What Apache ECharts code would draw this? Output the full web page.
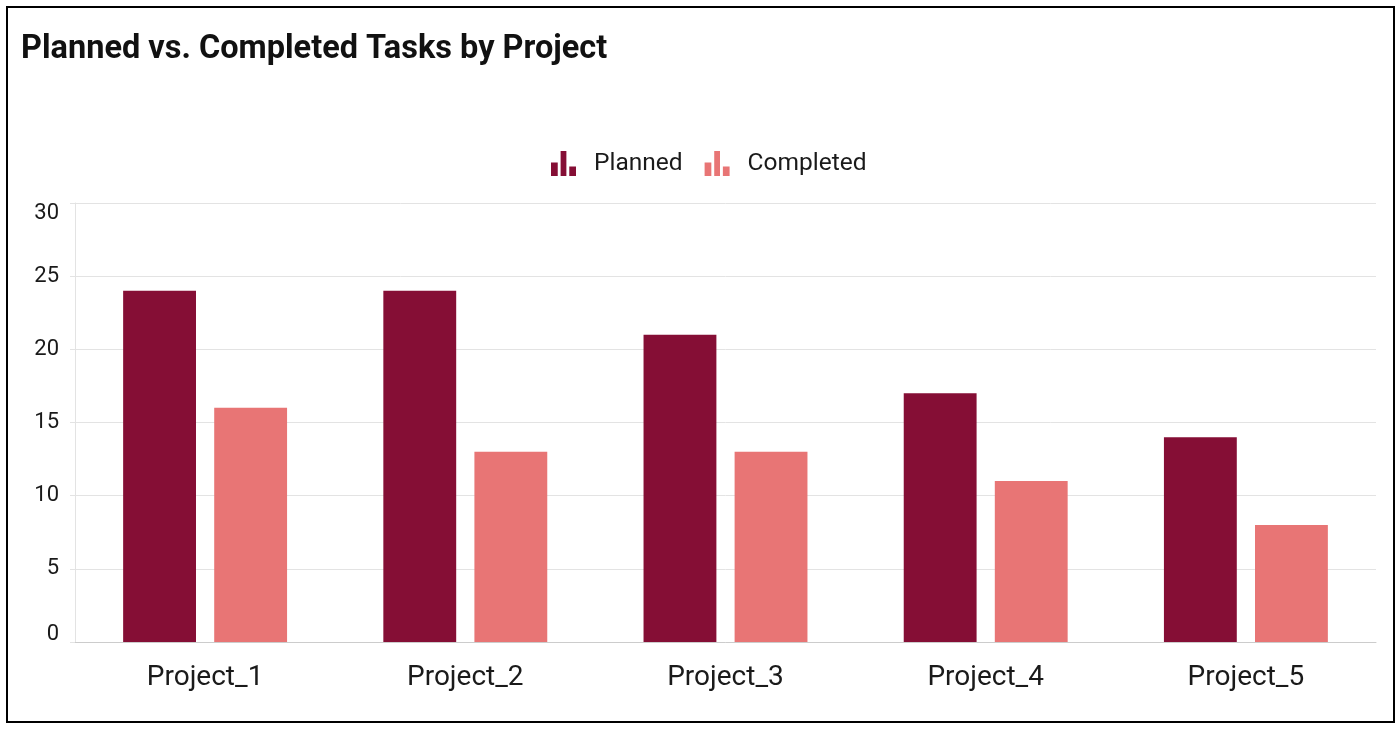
<!DOCTYPE html>
<html>
<head>
<meta charset="utf-8">
<script src="https://cdn.jsdelivr.net/npm/echarts@6/dist/echarts.min.js"></script>
<style>
html,body{margin:0;padding:0;background:#fff;}
#chart{position:absolute;left:0;top:0;width:1400px;height:729px;}
#frame{position:absolute;left:6px;top:6px;width:1385px;height:713px;border:2px solid #000;pointer-events:none;}
</style>
</head>
<body>
<div id="chart"></div>
<div id="frame"></div>
<script>
const categories = ['Project_1','Project_2','Project_3','Project_4','Project_5'];
const planned = [24, 24, 21, 17, 14];
const completed = [16, 13, 13, 11, 8];
const seriesNames = ['Planned','Completed'];
const yMin = 0, yMax = 30, yStep = 5;
const colors = ['#850E35','#E87575'];

const icon = 'path://M0,12 h7 v14 h-7z M10,0 h6 v26 h-6z M19,16 h7 v10 h-7z';

const chart = echarts.init(document.getElementById('chart'));
chart.setOption({
  animation:false,
  title:{
    text:'Planned vs. Completed Tasks by Project',
    left:21, top:33, padding:0,
    textStyle:{fontFamily:'Roboto', fontSize:32.5, fontWeight:'bold', color:'#111'}
  },
  legend:{
    top:151, left:551, padding:0,
    itemWidth:25, itemHeight:26, itemGap:22,
    icon: icon,
    textStyle:{fontFamily:'Roboto', fontSize:24.5, color:'#1a1a1a', padding:[0,0,0,13]},
    data: seriesNames
  },
  grid:{left:75, right:24, top:203, bottom:87},
  xAxis:{
    type:'category', data:categories,
    axisLine:{lineStyle:{color:'#ccc', width:1}},
    axisTick:{length:9, lineStyle:{color:'#ccc'}},
    axisLabel:{fontFamily:'Roboto', fontSize:28, color:'#1a1a1a', margin:22}
  },
  yAxis:{
    type:'value', min:yMin, max:yMax, interval:yStep,
    axisLine:{show:true, lineStyle:{color:'#e3e3e3'}},
    axisTick:{show:true, length:5, lineStyle:{color:'#e3e3e3'}},
    splitLine:{lineStyle:{color:'#e3e3e3'}},
    axisLabel:{
      fontFamily:'Roboto', fontSize:22, color:'#1a1a1a', margin:16,
      formatter:function(v){
        if(v===yMax) return '{top|'+v+'}';
        if(v===yMin) return '{bot|'+v+'}';
        return String(v);
      },
      rich:{
        top:{fontFamily:'Roboto', fontSize:22, color:'#1a1a1a', padding:[21,0,0,0]},
        bot:{fontFamily:'Roboto', fontSize:22, color:'#1a1a1a', padding:[0,0,15,0]}
      }
    }
  },
  series:[
    {name:seriesNames[0], type:'bar', data:planned, barWidth:'28%', barGap:'25%', itemStyle:{color:colors[0]}},
    {name:seriesNames[1], type:'bar', data:completed, barWidth:'28%', barGap:'25%', itemStyle:{color:colors[1]}}
  ]
});
</script>
</body>
</html>
